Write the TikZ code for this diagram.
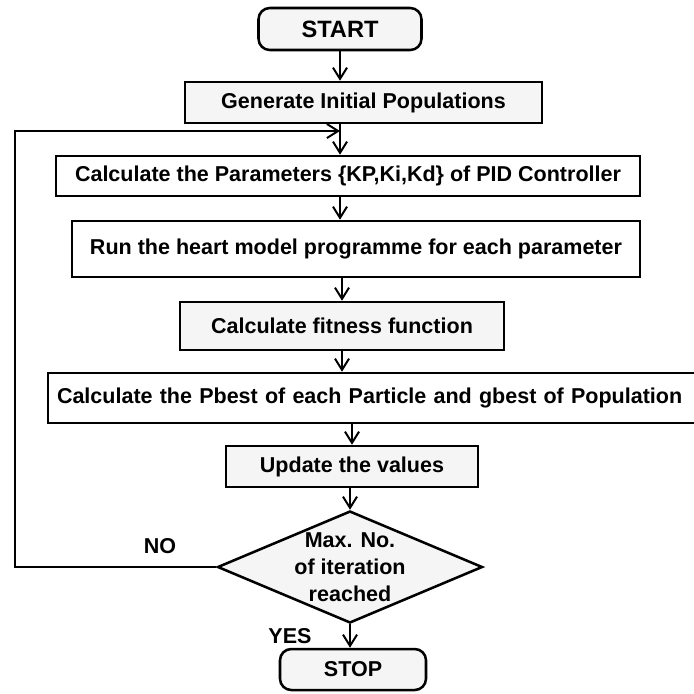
\documentclass[tikz,border=0pt]{standalone}
\usepackage{fontspec}
\setmainfont{Liberation Sans}
\usetikzlibrary{shapes.geometric,arrows.meta}

\begin{document}
\begin{tikzpicture}[x=0.025cm, y=-0.025cm, line width=1.8pt,
                    font=\fontsize{15.3pt}{19.2pt}\selectfont\bfseries,
                    box node/.style={rectangle,draw,inner sep=0pt,align=center},
                    grey node/.style={box node,fill=gray!8},
                    round node/.style={grey node,rounded corners=8pt},
                    flow/.style={line width=1.4pt,-{Straight Barb[length=8pt,width=10pt,line width=1.4pt]}}]

  \useasboundingbox (0,0) rectangle (694,693);

  \node[round node,minimum width=163*0.025cm,minimum height=42*0.025cm,font=\fontsize{16.8pt}{19pt}\selectfont\bfseries] (start) at (340,29) {START};
  \node[grey node,minimum width=357*0.025cm,minimum height=41*0.025cm] (init) at (363.5,102.5) {Generate Initial Populations};
  \node[box node,minimum width=584*0.025cm,minimum height=40*0.025cm] (params) at (348,176) {Calculate the Parameters \{KP,Ki,Kd\} of PID Controller};
  \node[box node,minimum width=568*0.025cm,minimum height=56*0.025cm] (run) at (356,249) {Run the heart model programme for each parameter};
  \node[grey node,minimum width=324*0.025cm,minimum height=48*0.025cm] (fit) at (342,326) {Calculate fitness function};
  \node[box node,align=left,inner xsep=9*0.025cm,text width=642*0.025cm,minimum height=50*0.025cm] (best) at (378,398) {Calculate the Pbest of each Particle and gbest of Population};
  \node[grey node,minimum width=252*0.025cm,minimum height=41*0.025cm] (update) at (352,466.5) {Update the values};
  \node[grey node,diamond,aspect=2.37,minimum width=265*0.025cm,minimum height=112*0.025cm] (check) at (350,567) {};
  \node[align=center] (checktext) at (350,567) {Max. No.\\of iteration\\reached};
  \node[round node,minimum width=146*0.025cm,minimum height=41*0.025cm] (stop) at (353,669.5) {STOP};

  \node (no) at (160,546) {NO};
  \node (yes) at (290,636) {YES};

  \coordinate (back) at (15,131);
  \coordinate (join) at (340,131);

  % main line
  \draw[flow] (start.south) -- (start.south |- init.north);
  \draw[flow] (init.south -| start) -- (params.north -| start);
  \draw[flow] (params.south -| start) -- (run.north -| start);
  \draw[flow] (run.south -| fit) -- (fit.north);
  \draw[flow] (fit.south) -- (best.north -| fit);
  \draw[flow] (best.south -| update) -- (update.north);
  \draw[flow] (update.south -| check) -- (check.north);
  \draw[flow] (check.south) -- (check.south |- stop.north);

  % loop back
  \draw[flow] (check.west) -- (check.west -| back) -- (back) -- (join);

\end{tikzpicture}
\end{document}
